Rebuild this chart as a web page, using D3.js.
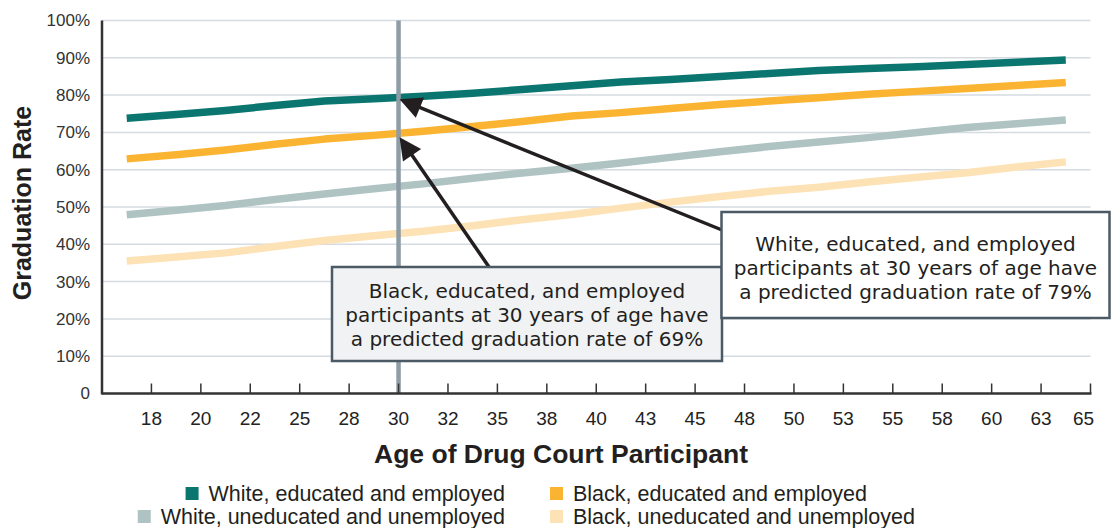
<!DOCTYPE html>
<html><head><meta charset="utf-8">
<script src="https://cdn.jsdelivr.net/npm/d3@7"></script>
<style>
html,body{margin:0;padding:0;background:#fff;}
svg{display:block;font-family:"Liberation Sans",Arial,Helvetica,sans-serif;}
</style></head>
<body><svg id="c" width="1111" height="528"></svg>
<script>
const ageLabels = ["18","20","22","25","28","30","32","35","38","40","43","45","48","50","53","55","58","60","63","65"];
const whiteEduEmp   = [73.8,74.8,75.9,77.2,78.4,79.0,79.7,80.5,81.5,82.5,83.5,84.2,85.0,85.8,86.6,87.1,87.6,88.2,88.8,89.4];
const blackEduEmp   = [62.9,64.0,65.3,66.8,68.2,69.2,70.3,71.6,72.9,74.4,75.3,76.4,77.5,78.4,79.3,80.2,81.0,81.8,82.6,83.4];
const whiteUneduUnemp = [47.9,49.1,50.4,52.0,53.5,54.9,56.2,57.7,59.1,60.4,61.8,63.3,64.8,66.2,67.4,68.6,70.0,71.3,72.3,73.3];
const blackUneduUnemp = [35.5,36.6,37.7,39.4,41.0,42.3,43.5,45.0,46.6,48.0,49.7,51.3,52.8,54.2,55.3,56.7,58.0,59.2,60.7,62.1];
const yTicks = [0,10,20,30,40,50,60,70,80,90,100];
const seriesNames = ["White, educated and employed","Black, educated and employed","White, uneducated and unemployed","Black, uneducated and unemployed"];
const seriesColors = ["#0b7670","#fbb431","#afc3c3","#fde2b6"];
const highlightAge = "30";
const whiteNote = ["White, educated, and employed","participants at 30 years of age have","a predicted graduation rate of 79%"];
const blackNote = ["Black, educated, and employed","participants at 30 years of age have","a predicted graduation rate of 69%"];
const whiteNoteValue = 79, blackNoteValue = 69;

const svg = d3.select("#c");
const x0 = 102, x1 = 1090.5, yTop = 20.5, yBot = 393.5;
const x = d3.scaleBand().domain(d3.range(ageLabels.length)).range([x0, x1]).padding(0);
const bw = x.bandwidth();
const cx = i => x(i) + bw/2;
const tickX = i => x(i) + bw;
const y = d3.scaleLinear().domain([0,100]).range([yBot, yTop]);

// gridlines
svg.append("g").selectAll("line").data(yTicks.filter(d=>d>0)).join("line")
  .attr("x1", x0).attr("x2", x1).attr("y1", d=>y(d)).attr("y2", d=>y(d))
  .attr("stroke","#d5dbe0").attr("stroke-width",1.5);

// y tick labels
svg.append("g").selectAll("text").data(yTicks).join("text")
  .attr("x", 90).attr("y", d=>y(d)).attr("dy","0.35em").attr("text-anchor","end")
  .attr("font-size",17).attr("fill","#333")
  .text(d=> d===0 ? "0" : d+"%");

// lines
const allSeries = [whiteEduEmp, blackEduEmp, whiteUneduUnemp, blackUneduUnemp];
const lineGen = d3.line().x((d,i)=>cx(i)).y(d=>y(d));
const drawOrder = [3,2,1,0];
drawOrder.forEach(k=>{
  svg.append("path").datum(allSeries[k]).attr("d", lineGen)
    .attr("fill","none").attr("stroke", seriesColors[k]).attr("stroke-width",7.5)
    .attr("stroke-linejoin","round");
});

// vertical highlight line at age 30
const hi = ageLabels.indexOf(highlightAge);
const hx = tickX(hi);
svg.append("line").attr("x1",hx).attr("x2",hx).attr("y1",yTop).attr("y2",yBot)
  .attr("stroke","#8e9ca6").attr("stroke-width",4.5);

// axes
svg.append("line").attr("x1",x0).attr("x2",x0).attr("y1",yTop).attr("y2",yBot+1)
  .attr("stroke","#333").attr("stroke-width",2.5);
svg.append("line").attr("x1",x0).attr("x2",tickX(ageLabels.length-1)+1).attr("y1",yBot).attr("y2",yBot)
  .attr("stroke","#333").attr("stroke-width",2.5);
svg.append("g").selectAll("line").data(ageLabels.map((d,i)=>i)).join("line")
  .attr("x1", i=>tickX(i)).attr("x2", i=>tickX(i)).attr("y1", yBot).attr("y2", yBot-10)
  .attr("stroke","#333").attr("stroke-width",1.5);
svg.append("g").selectAll("text").data(ageLabels).join("text")
  .attr("x",(d,i)=>tickX(i) - (i===ageLabels.length-1 ? 7 : 0)).attr("y",425)
  .attr("text-anchor","middle").attr("font-size",19).attr("fill","#222").text(d=>d);

// axis titles
svg.append("text").attr("x",561).attr("y",463).attr("text-anchor","middle")
  .attr("font-size",26.5).attr("font-weight","bold").attr("fill","#231f20")
  .text("Age of Drug Court Participant");
svg.append("text").attr("transform","translate(31,203) rotate(-90)").attr("text-anchor","middle")
  .attr("font-size",25).attr("font-weight","bold").attr("fill","#231f20")
  .text("Graduation Rate");

// arrows
function arrow(xa, ya, xb, yb){
  const ang = Math.atan2(yb-ya, xb-xa), L = 22, W = 11;
  const bx = xb - L*Math.cos(ang), by = yb - L*Math.sin(ang);
  svg.append("line").attr("x1",xa).attr("y1",ya).attr("x2",bx+3*Math.cos(ang)).attr("y2",by+3*Math.sin(ang))
    .attr("stroke","#231f20").attr("stroke-width",3.5);
  const px = -Math.sin(ang), py = Math.cos(ang);
  svg.append("polygon").attr("points",[[xb,yb],[bx+W*px,by+W*py],[bx-W*px,by-W*py]].map(p=>p.join(",")).join(" "))
    .attr("fill","#231f20");
}
arrow(489, 267, hx+1, y(blackNoteValue)+1);
arrow(722, 230, hx+1, y(whiteNoteValue)+0.5);

// annotation boxes
function box(bx0, by0, bx1, by1, fill, lines, tx, ty0){
  svg.append("rect").attr("x",bx0).attr("y",by0).attr("width",bx1-bx0).attr("height",by1-by0)
    .attr("fill",fill).attr("stroke","#4b5a65").attr("stroke-width",2.5);
  svg.append("g").selectAll("text").data(lines).join("text")
    .attr("x",tx).attr("y",(d,i)=>ty0+i*24.3).attr("text-anchor","middle")
    .attr("font-family","'DejaVu Sans',sans-serif").attr("font-size",20).attr("fill","#231f20")
    .text(d=>d);
}
box(332, 267, 722, 361, "#f0f2f4", blackNote, 527, 297.5);
box(721.5, 212, 1109.5, 318, "#ffffff", whiteNote, 915.5, 250.5);

// legend
const legendItems = [
  {k:0, col:0, row:0},{k:1, col:1, row:0},{k:2, col:0, row:1},{k:3, col:1, row:1}
];
const lg = svg.append("g");
legendItems.forEach(it=>{
  const by = 501 + it.row*23;
  const t = lg.append("text").attr("y", by).attr("font-size",21.5).attr("fill","#231f20").text(seriesNames[it.k]);
  if(it.col===0){
    t.attr("x",505).attr("text-anchor","end");
    const w = t.node().getComputedTextLength();
    lg.append("rect").attr("x",505-w-23).attr("y",by-14).attr("width",13).attr("height",13).attr("fill",seriesColors[it.k]);
  } else {
    t.attr("x",573).attr("text-anchor","start");
    lg.append("rect").attr("x",550).attr("y",by-14).attr("width",13).attr("height",13).attr("fill",seriesColors[it.k]);
  }
});
</script></body></html>
